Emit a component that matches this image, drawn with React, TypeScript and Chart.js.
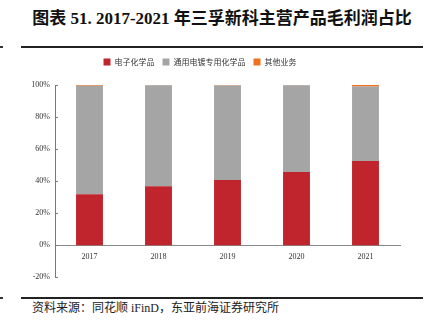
import React, { useEffect, useRef } from "react";
import { Chart, registerables } from "chart.js";

Chart.register(...registerables);

const categories = ["2017", "2018", "2019", "2020", "2021"];
const electronicChem = [31.8, 36.8, 40.7, 45.7, 52.6];
const platingChem = [67.8, 63.1, 59.0, 54.1, 46.4];
const otherBiz = [0.4, 0.1, 0.3, 0.2, 1.0];
const seriesNames = ["电子化学品", "通用电镀专用化学品", "其他业务"];
const yTicks = [-20, 0, 20, 40, 60, 80, 100];

const SERIF = "'Liberation Serif', 'Noto Sans CJK SC', serif";

const inwardTicks = {
  id: "inwardTicks",
  afterDraw(chart: any) {
    const y = chart.scales.y;
    const ctx = chart.ctx;
    ctx.save();
    ctx.strokeStyle = "#777";
    ctx.lineWidth = 1;
    ctx.beginPath();
    y.ticks.forEach((t: any) => {
      const py = Math.round(y.getPixelForValue(t.value)) + 0.5;
      ctx.moveTo(y.right, py);
      ctx.lineTo(y.right + 3, py);
    });
    ctx.stroke();
    ctx.restore();
  },
};

const legendGap = {
  id: "legendGap",
  afterInit(chart: any) {
    const lg = chart.legend;
    if (!lg) return;
    const orig = lg.fit;
    lg.fit = function () {
      orig.call(this);
      this.height += 9;
    };
  },
};

export default function App() {
  const ref = useRef<HTMLCanvasElement>(null);
  useEffect(() => {
    if (!ref.current) return;
    const chart = new Chart(ref.current, {
      type: "bar",
      data: {
        labels: categories,
        datasets: [
          { label: seriesNames[0], data: electronicChem, backgroundColor: "#C0242D" },
          { label: seriesNames[1], data: platingChem, backgroundColor: "#A5A5A5" },
          { label: seriesNames[2], data: otherBiz, backgroundColor: "#EE7020" },
        ],
      },
      options: {
        animation: false,
        responsive: false,
        maintainAspectRatio: false,
        layout: { padding: { left: 0, right: 32, top: 0, bottom: 7 } },
        datasets: { bar: { barPercentage: 0.39, categoryPercentage: 1 } } as any,
        plugins: {
          legend: {
            position: "top",
            labels: {
              boxWidth: 7,
              boxHeight: 7,
              padding: 8,
              color: "#333",
              font: { size: 8, family: "'Noto Sans CJK SC', sans-serif" },
            },
          },
          tooltip: { enabled: false },
        },
        scales: {
          x: {
            stacked: true,
            position: { y: 0 } as any,
            grid: { display: false, drawTicks: false },
            border: { display: true, color: "#888", width: 1 },
            ticks: { color: "#333", padding: 7, font: { size: 8, family: SERIF } },
          },
          y: {
            stacked: true,
            min: -20,
            max: 100,
            afterFit: (s: any) => {
              s.width = 55;
            },
            afterBuildTicks: (s: any) => {
              s.ticks = yTicks.map((v) => ({ value: v }));
            },
            grid: { display: false, drawTicks: false },
            border: { display: true, color: "#777", width: 1 },
            ticks: {
              color: "#333",
              padding: 5,
              font: { size: 8, family: SERIF },
              callback: (v: any) => v + "%",
            },
          },
        },
      },
      plugins: [inwardTicks, legendGap],
    });
    return () => chart.destroy();
  }, []);

  return (
    <div style={{ position: "fixed", left: 0, top: 0, width: 432, height: 328, background: "#fff" }}>
      <div
        style={{
          position: "absolute",
          left: 12,
          width: 420,
          top: 4,
          textAlign: "center",
          fontFamily: SERIF,
          fontWeight: "bold",
          fontSize: 17,
          color: "#111",
          whiteSpace: "nowrap",
        }}
      >
        图表 51. 2017-2021 年三孚新科主营产品毛利润占比
      </div>
      <div style={{ position: "absolute", left: 0, top: 46, width: 3, height: 2, background: "#333" }} />
      <div style={{ position: "absolute", left: 21, top: 46, width: 402, height: 2, background: "#222" }} />
      <canvas
        ref={ref}
        width={432}
        height={237}
        style={{ position: "absolute", left: 0, top: 50, width: 432, height: 237 }}
      />
      <div style={{ position: "absolute", left: 0, top: 297, width: 3, height: 2, background: "#333" }} />
      <div style={{ position: "absolute", left: 21, top: 297, width: 402, height: 2, background: "#222" }} />
      <div
        style={{
          position: "absolute",
          left: 32,
          top: 302,
          lineHeight: "12px",
          fontFamily: SERIF,
          fontSize: 12,
          color: "#222",
          whiteSpace: "nowrap",
        }}
      >
        资料来源：同花顺 iFinD，东亚前海证券研究所
      </div>
    </div>
  );
}
